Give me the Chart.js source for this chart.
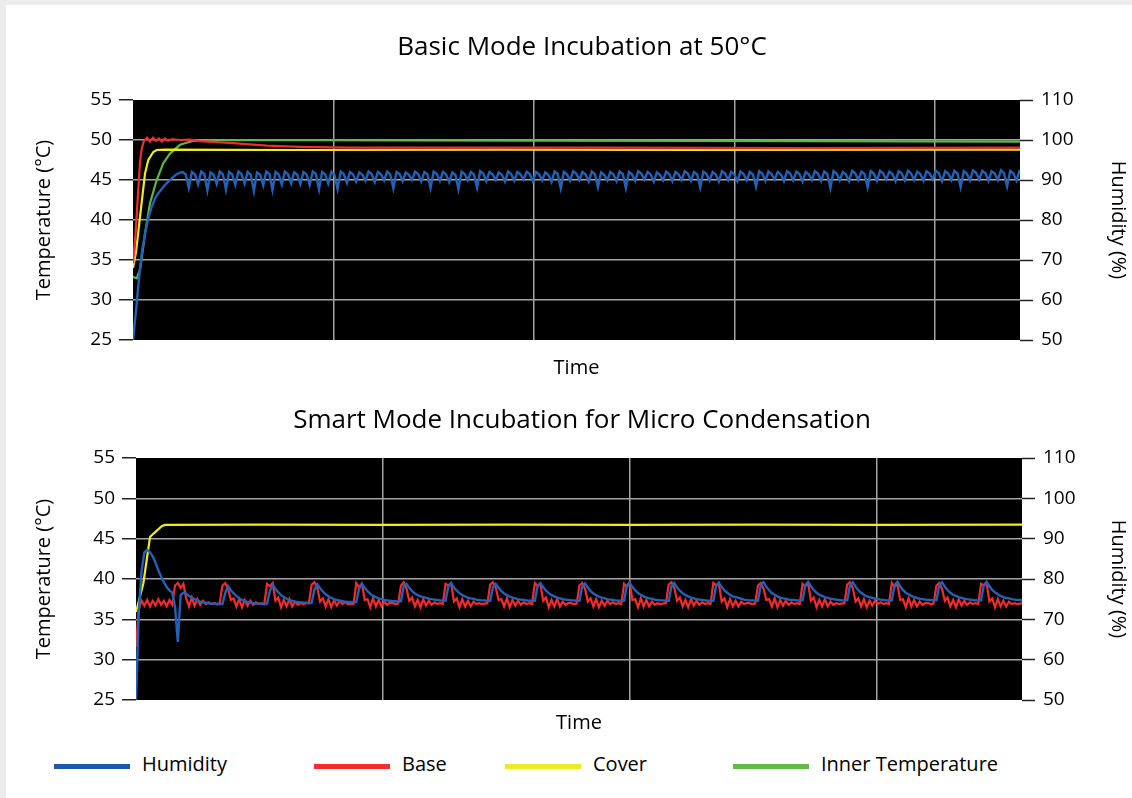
<!DOCTYPE html>
<html>
<head>
<meta charset="utf-8">
<title>Incubation</title>
<script src="https://cdn.jsdelivr.net/npm/chart.js@4.4.1/dist/chart.umd.min.js"></script>
<style>
  html, body { margin: 0; padding: 0; background: #ececec; width: 1132px; height: 798px; overflow: hidden; }
  #sheet { position: absolute; left: 6px; top: 5px; width: 1126px; height: 793px; background: #fff; }
  canvas { position: absolute; left: 0; }
  #top-chart { top: 0; }
  #bottom-chart { top: 390px; }
  .key { position: absolute; top: 750px; display: flex; align-items: center; font: 20px "Open Sans", sans-serif; color: #000; line-height: 28px; }
  .key .swatch { display: inline-block; width: 76px; height: 5px; margin-right: 12px; position: relative; top: 2px; }
</style>
</head>
<body>
<div id="sheet"></div>
<canvas id="top-chart" width="1132" height="390"></canvas>
<canvas id="bottom-chart" width="1132" height="360"></canvas>
<div id="legend"></div>
<script>
// series
var seriesNames = ['Humidity', 'Base', 'Cover', 'Inner Temperature'];
var seriesColors = ['#2461b6', '#f02c2c', '#f0ec1a', '#5cb847'];
var legendColors = ['#1f58a8', '#ee3030', '#eeea2a', '#66b84a'];

// axes (temperature left, humidity right, time unlabeled)
var tempTicks = [25, 30, 35, 40, 45, 50, 55];
var humTicks = [50, 60, 70, 80, 90, 100, 110];
var topTimeMax = 4.424;
var bottomTimeMax = 3.587;

/* ---------- Basic Mode Incubation at 50°C ---------- */

// humidity, sampled every topHumStep h
var topHumStep = 0.01546;
var topHumidityRise = [50, 57.5, 66, 72.7, 77, 80.6, 83.2, 85.2, 86.5, 87.5,
  88.5, 89.3, 90.0, 90.8, 91.4, 91.8, 92.0, 91.4, 88.0];
var topHumidityCycles = [
  92.0,91.4,88.9, 92.1,91.5,87.4, 91.9,91.3,89.0, 92.1,91.4,87.6, 92.0,91.4,88.8,
  92.1,91.5,89.1, 92.0,91.3,87.2, 91.9,91.4,88.7, 92.1,91.5,87.5, 92.0,91.4,88.9,
  92.1,91.5,89.2, 91.9,91.3,89.0, 92.0,91.4,88.8, 92.1,91.5,87.6, 92.0,91.4,89.1,
  92.0,91.3,87.8, 92.1,91.5,89.3, 92.0,91.4,89.6, 91.9,91.3,89.8, 92.1,91.5,89.5,
  92.0,91.4,89.9, 92.1,91.4,87.9, 92.0,91.5,89.7, 91.9,91.3,90.0, 92.1,91.5,89.6,
  92.0,91.4,88.0, 92.1,91.5,89.8, 92.0,91.4,89.5, 91.9,91.3,87.7, 92.1,91.5,89.9,
  92.0,91.4,88.1, 92.2,91.6,89.7, 92.0,91.4,90.0, 91.9,91.3,89.6, 92.1,91.5,89.8,
  92.0,91.4,90.1, 92.1,91.5,89.7, 92.0,91.4,89.9, 91.9,91.3,89.5, 92.1,91.5,87.9,
  92.0,91.4,89.8, 92.2,91.6,90.0, 92.0,91.4,89.6, 92.1,91.5,88.2, 91.9,91.3,89.9,
  92.0,91.4,89.7, 92.1,91.5,88.0, 92.0,91.4,89.8, 92.2,91.6,90.1, 92.0,91.4,89.6,
  91.9,91.3,89.9, 92.1,91.5,89.7, 92.0,91.4,90.0, 92.2,91.6,89.8, 92.0,91.4,88.1,
  92.1,91.5,89.9, 92.0,91.4,89.6, 92.2,91.6,90.0, 92.0,91.4,89.7, 92.1,91.5,89.9,
  92.0,91.4,88.3, 92.2,91.6,89.8, 92.1,91.5,90.1, 92.0,91.4,89.7, 92.2,91.6,89.9,
  92.1,91.5,89.6, 92.0,91.4,90.0, 92.2,91.6,89.8, 92.1,91.5,88.0, 92.2,91.6,89.9,
  92.0,91.4,89.7, 92.3,91.7,90.0, 92.1,91.5,88.2, 92.2,91.6,89.8, 92.3,91.7,90.1,
  92.1,91.5,89.7, 92.2,91.6,89.9, 92.3,91.7,90.0, 92.1,91.5,89.8, 92.2,91.6,90.1,
  92.3,91.7,89.7, 92.2,91.6,90.0, 92.3,91.6,88.2, 92.2,91.6,89.9, 92.4,91.8,90.1,
  92.3,91.7,89.8, 92.2,91.6,90.0, 92.4,91.7,88.4, 92.3,91.7,89.9, 92.2,91.6,90.0
];

// base (°C)
var topBaseT = [0, 0.0125, 0.0264, 0.0349, 0.0434, 0.0549, 0.0698, 0.0848, 0.0998, 0.1147,
  0.1297, 0.1446, 0.1596, 0.1746, 0.1945, 0.2344, 0.2843, 0.3342, 0.4988, 0.6668,
  0.8329, 1.0823, 2.3292, 3.3267, 4.424];
var topBaseV = [34.6, 38.2, 43.8, 47.2, 48.9, 49.9, 50.3, 49.8, 50.3, 49.9,
  50.2, 49.8, 50.2, 49.9, 50.1, 50.0, 50.05, 49.85, 49.6, 49.3,
  49.15, 49.05, 49.05, 49.0, 49.05];

// cover (°C)
var topCoverT = [0, 0.015, 0.0349, 0.0599, 0.0763, 0.1012, 0.1182, 0.1596, 0.8329, 1.8304, 2.828, 3.8254, 4.424];
var topCoverV = [34.0, 36.0, 40.4, 45.8, 47.5, 48.5, 48.75, 48.8, 48.75, 48.8, 48.75, 48.8, 48.8];

// inner temperature (°C)
var topInnerT = [0, 0.0185, 0.0349, 0.0474, 0.0599, 0.0848, 0.1182, 0.1511, 0.1845, 0.2344, 0.3007, 0.4838, 1.3317, 2.828, 4.424];
var topInnerV = [32.9, 32.7, 33.75, 36.0, 38.3, 42.1, 45.0, 47.1, 48.3, 49.4, 49.9, 50.0, 49.95, 49.9, 49.8];

/* ---------- Smart Mode Incubation for Micro Condensation ---------- */

// base and humidity sampled every botStep h
var botStep = 0.011291;
var botBase = [
  31.6, 36.2, 37.3, 36.7, 37.4, 36.6, 37.3, 36.7, 37.5, 36.8, 37.3, 36.6, 37.4, 36.8,
  39.2, 39.5, 38.9, 39.4, 37.6, 36.6, 37.7, 36.7, 37.5, 36.8, 37.3, 36.9, 37.1, 36.9, 37.0, 36.9, 37.0,
  39.2, 39.5, 38.8, 37.4, 37.6, 36.6, 37.5, 36.5, 37.4, 36.7, 37.3, 36.8, 37.1, 36.9, 37.0, 36.9,
  39.4, 39.1, 39.5, 37.3, 37.7, 36.5, 37.4, 36.6, 37.5, 36.6, 37.2, 36.8, 37.0, 36.9, 37.0, 37.0,
  39.3, 39.6, 38.9, 37.2, 37.6, 36.6, 37.5, 36.5, 37.3, 36.7, 37.3, 36.9, 37.1, 36.9, 36.95, 36.9,
  39.5, 39.0, 39.4, 37.4, 37.5, 36.5, 37.6, 36.6, 37.4, 36.6, 37.2, 36.8, 37.0, 37.0, 36.9, 36.95,
  39.2, 39.6, 38.8, 37.3, 37.7, 36.6, 37.4, 36.5, 37.5, 36.7, 37.3, 36.8, 37.1, 36.9, 37.0, 36.9,
  39.4, 39.2, 39.5, 37.2, 37.6, 36.5, 37.5, 36.6, 37.3, 36.6, 37.2, 36.9, 37.0, 36.9, 36.95, 37.0,
  39.3, 39.6, 38.9, 37.4, 37.5, 36.6, 37.6, 36.5, 37.4, 36.7, 37.3, 36.8, 37.1, 36.9, 37.0, 36.9,
  39.5, 39.1, 39.4, 37.3, 37.7, 36.5, 37.4, 36.6, 37.5, 36.6, 37.2, 36.8, 37.0, 37.0, 36.9, 36.95,
  39.2, 39.5, 38.8, 37.2, 37.6, 36.6, 37.5, 36.5, 37.3, 36.7, 37.3, 36.9, 37.1, 36.9, 37.0, 36.9,
  39.4, 39.0, 39.6, 37.4, 37.5, 36.5, 37.6, 36.6, 37.4, 36.6, 37.2, 36.8, 37.0, 36.9, 36.95, 37.0,
  39.3, 39.6, 38.9, 37.3, 37.7, 36.6, 37.4, 36.5, 37.5, 36.7, 37.3, 36.8, 37.1, 36.9, 37.0, 36.9,
  39.5, 39.2, 39.4, 37.2, 37.6, 36.5, 37.5, 36.6, 37.3, 36.6, 37.2, 36.9, 37.0, 37.0, 36.9, 36.95,
  39.2, 39.5, 38.8, 37.4, 37.5, 36.6, 37.6, 36.5, 37.4, 36.7, 37.3, 36.8, 37.1, 36.9, 37.0, 36.9,
  39.4, 39.1, 39.5, 37.3, 37.7, 36.5, 37.4, 36.6, 37.5, 36.6, 37.2, 36.8, 37.0, 36.9, 36.95, 37.0,
  39.3, 39.6, 38.9, 37.2, 37.6, 36.6, 37.5, 36.5, 37.3, 36.7, 37.3, 36.9, 37.1, 36.9, 37.0, 36.9,
  39.5, 39.0, 39.4, 37.4, 37.5, 36.5, 37.6, 36.6, 37.4, 36.6, 37.2, 36.8, 37.0, 37.0, 36.9, 36.95,
  39.2, 39.5, 38.8, 37.3, 37.7, 36.6, 37.4, 36.5, 37.5, 36.7, 37.3, 36.8, 37.1, 36.9, 37.0, 36.9,
  39.4, 39.2, 39.5, 37.2, 37.6, 36.5, 37.5, 36.6, 37.3, 36.6, 37.2, 36.9, 37.0, 36.9, 36.95, 37.0
];
var botHumidity = [
  50, 72, 82, 86.6, 87.2, 86.6, 85.6, 84, 82.2, 80.6, 79.2, 78, 77.2, 76.6,
  73, 64.4, 76, 76.6, 76.4, 75.8, 75.4, 75, 74.7, 74.4, 74.2, 74.1, 74.0, 73.9, 73.9, 73.8, 73.8,
  73.8, 76.5, 78.2, 77.2, 76.4, 75.8, 75.2, 74.8, 74.5, 74.3, 74.1, 74.0, 73.9, 73.9, 73.8, 73.8,
  73.9, 77.0, 78.5, 77.6, 76.7, 76.0, 75.5, 75.1, 74.8, 74.6, 74.4, 74.3, 74.2, 74.1, 74.1, 74.0,
  74.1, 77.4, 78.7, 77.7, 76.9, 76.2, 75.7, 75.3, 75.0, 74.8, 74.6, 74.5, 74.4, 74.3, 74.3, 74.2,
  74.3, 77.6, 78.8, 77.8, 77.0, 76.3, 75.8, 75.5, 75.2, 75.0, 74.8, 74.7, 74.6, 74.5, 74.5, 74.4,
  74.5, 78.3, 78.8, 77.8, 77.0, 76.4, 76.0, 75.7, 75.5, 75.3, 75.1, 75.0, 74.9, 74.8, 74.7, 74.6,
  74.6, 78.2, 78.9, 77.9, 77.1, 76.5, 76.0, 75.7, 75.4, 75.2, 75.1, 74.9, 74.8, 74.7, 74.7, 74.6,
  74.6, 78.0, 78.8, 77.8, 77.0, 76.4, 76.0, 75.6, 75.4, 75.2, 75.0, 74.9, 74.8, 74.7, 74.6, 74.6,
  74.6, 78.3, 79.0, 78.0, 77.1, 76.5, 76.0, 75.7, 75.4, 75.2, 75.0, 74.9, 74.8, 74.7, 74.7, 74.6,
  74.6, 78.1, 78.9, 77.9, 77.0, 76.4, 76.0, 75.6, 75.4, 75.2, 75.0, 74.9, 74.8, 74.7, 74.6, 74.6,
  74.6, 78.4, 79.1, 78.0, 77.2, 76.5, 76.1, 75.7, 75.4, 75.2, 75.1, 74.9, 74.8, 74.7, 74.7, 74.6,
  74.6, 78.2, 79.0, 77.9, 77.1, 76.5, 76.0, 75.7, 75.4, 75.2, 75.0, 74.9, 74.8, 74.7, 74.6, 74.6,
  74.6, 78.3, 79.1, 78.0, 77.2, 76.6, 76.1, 75.7, 75.5, 75.3, 75.1, 74.9, 74.8, 74.7, 74.7, 74.6,
  74.6, 78.4, 79.2, 78.1, 77.2, 76.5, 76.1, 75.7, 75.4, 75.2, 75.1, 74.9, 74.8, 74.8, 74.7, 74.7,
  74.7, 78.5, 79.3, 78.2, 77.3, 76.6, 76.1, 75.8, 75.5, 75.3, 75.1, 75.0, 74.9, 74.8, 74.7, 74.7,
  74.7, 78.4, 79.2, 78.1, 77.2, 76.6, 76.1, 75.7, 75.5, 75.3, 75.1, 75.0, 74.9, 74.8, 74.7, 74.7,
  74.7, 78.5, 79.3, 78.2, 77.3, 76.6, 76.2, 75.8, 75.5, 75.3, 75.1, 75.0, 74.9, 74.8, 74.8, 74.7,
  74.7, 78.4, 79.2, 78.1, 77.2, 76.6, 76.1, 75.8, 75.5, 75.3, 75.1, 75.0, 74.9, 74.8, 74.7, 74.7,
  74.7, 78.5, 79.3, 78.2, 77.3, 76.7, 76.2, 75.8, 75.5, 75.3, 75.2, 75.0, 74.9, 74.8, 74.8, 74.7
];

// cover (°C)
var botCoverT = [0, 0.0296, 0.0567, 0.07, 0.104, 0.1174, 0.5, 1.0, 1.5, 2.0, 2.5, 3.0, 3.587];
var botCoverV = [35.9, 39.45, 45.2, 45.6, 46.55, 46.7, 46.75, 46.7, 46.75, 46.7, 46.75, 46.7, 46.75];

/* ---------- helpers ---------- */

function onGrid(step, values) {
    return values.map(function (v, i) { return { x: i * step, y: v }; });
}
function pairs(times, values) {
    return times.map(function (t, i) { return { x: t, y: values[i] }; });
}

// black plot area, like the instrument software
var blackPlot = {
    id: 'blackPlot',
    beforeDraw: function (chart) {
        var a = chart.chartArea, ctx = chart.ctx;
        ctx.save();
        ctx.fillStyle = '#000';
        ctx.fillRect(a.left, a.top, a.right - a.left, a.bottom - a.top);
        ctx.restore();
    }
};

Chart.defaults.font.family = '"Open Sans", sans-serif';
Chart.defaults.color = '#000';

var gridGray = '#a3a3a3';

function buildOptions(title, titlePad, timeMax, area, canvasW, timePadBottom) {
    return {
        responsive: false,
        animation: false,
        layout: { padding: { left: 32, right: 0, top: 0, bottom: 0 } },
        elements: { point: { radius: 0 }, line: { borderWidth: 2.2, tension: 0 } },
        plugins: {
            legend: { display: false },
            tooltip: { enabled: false },
            title: {
                display: true, text: title, color: '#000',
                font: { size: 26, weight: 'normal' },
                padding: titlePad
            }
        },
        scales: {
            x: {
                type: 'linear', min: 0, max: timeMax,
                ticks: { display: false, stepSize: 1 },
                grid: {
                    color: function (c) {
                        var v = c.tick.value;
                        return (Number.isInteger(v) && v > 0) ? gridGray : 'rgba(0,0,0,0)';
                    },
                    lineWidth: 1.5, drawTicks: false
                },
                border: { display: false },
                title: { display: true, text: 'Time', font: { size: 20 }, padding: { top: 0, bottom: timePadBottom } },
                afterFit: function (s) { s.height = area.canvasH - area.bottom; }
            },
            y: {
                position: 'left', min: tempTicks[0], max: tempTicks[tempTicks.length - 1],
                ticks: { stepSize: 5, font: { size: 19 }, padding: 7 },
                grid: {
                    color: function (c) {
                        var v = c.tick.value;
                        return (v === tempTicks[0] || v === tempTicks[tempTicks.length - 1]) ? 'rgba(0,0,0,0)' : gridGray;
                    },
                    lineWidth: 1.5, tickColor: '#222', tickWidth: 1.5, tickLength: 14
                },
                border: { display: false },
                title: { display: true, text: 'Temperature (°C)', font: { size: 20 }, padding: { top: 0, bottom: 0 } },
                afterFit: function (s) { s.width = area.left - 32; }
            },
            y1: {
                position: 'right', min: humTicks[0], max: humTicks[humTicks.length - 1],
                ticks: { stepSize: 10, font: { size: 19 }, padding: 8 },
                grid: { drawOnChartArea: false, tickColor: '#222', tickWidth: 1.5, tickLength: 13 },
                border: { display: false },
                title: { display: true, text: 'Humidity (%)', font: { size: 20 }, padding: { top: 2, bottom: 0 } },
                afterFit: function (s) { s.width = canvasW - area.right; }
            }
        }
    };
}

var topChart = new Chart(document.getElementById('top-chart'), {
    type: 'line',
    data: {
        datasets: [
            { label: seriesNames[0], yAxisID: 'y1', borderColor: seriesColors[0], borderWidth: 2.4,
              data: onGrid(topHumStep, topHumidityRise.concat(topHumidityCycles)) },
            { label: seriesNames[1], yAxisID: 'y', borderColor: seriesColors[1], data: pairs(topBaseT, topBaseV) },
            { label: seriesNames[2], yAxisID: 'y', borderColor: seriesColors[2], data: pairs(topCoverT, topCoverV) },
            { label: seriesNames[3], yAxisID: 'y', borderColor: seriesColors[3], data: pairs(topInnerT, topInnerV) }
        ]
    },
    options: buildOptions('Basic Mode Incubation at 50°C', { top: 31.9, bottom: 36.9 }, topTimeMax,
        { left: 133, right: 1020, bottom: 340, canvasH: 390 }, 1132, 10),
    plugins: [blackPlot]
});

var bottomChart = new Chart(document.getElementById('bottom-chart'), {
    type: 'line',
    data: {
        datasets: [
            { label: seriesNames[0], yAxisID: 'y1', borderColor: seriesColors[0], borderWidth: 2.4, data: onGrid(botStep, botHumidity) },
            { label: seriesNames[1], yAxisID: 'y', borderColor: seriesColors[1], data: onGrid(botStep, botBase) },
            { label: seriesNames[2], yAxisID: 'y', borderColor: seriesColors[2], data: pairs(botCoverT, botCoverV) }
        ]
    },
    options: buildOptions('Smart Mode Incubation for Micro Condensation', { top: 15.4, bottom: 21.4 }, bottomTimeMax,
        { left: 136, right: 1022, bottom: 310, canvasH: 360 }, 1132, 15),
    plugins: [blackPlot]
});

// shared legend under both charts
var legendLeft = [54, 314, 505, 733];
var legend = document.getElementById('legend');
seriesNames.forEach(function (name, i) {
    var item = document.createElement('div');
    item.className = 'key';
    item.style.left = legendLeft[i] + 'px';
    item.innerHTML = '<span class="swatch" style="background:' + legendColors[i] + '"></span><span>' + name + '</span>';
    legend.appendChild(item);
});
</script>
</body>
</html>
